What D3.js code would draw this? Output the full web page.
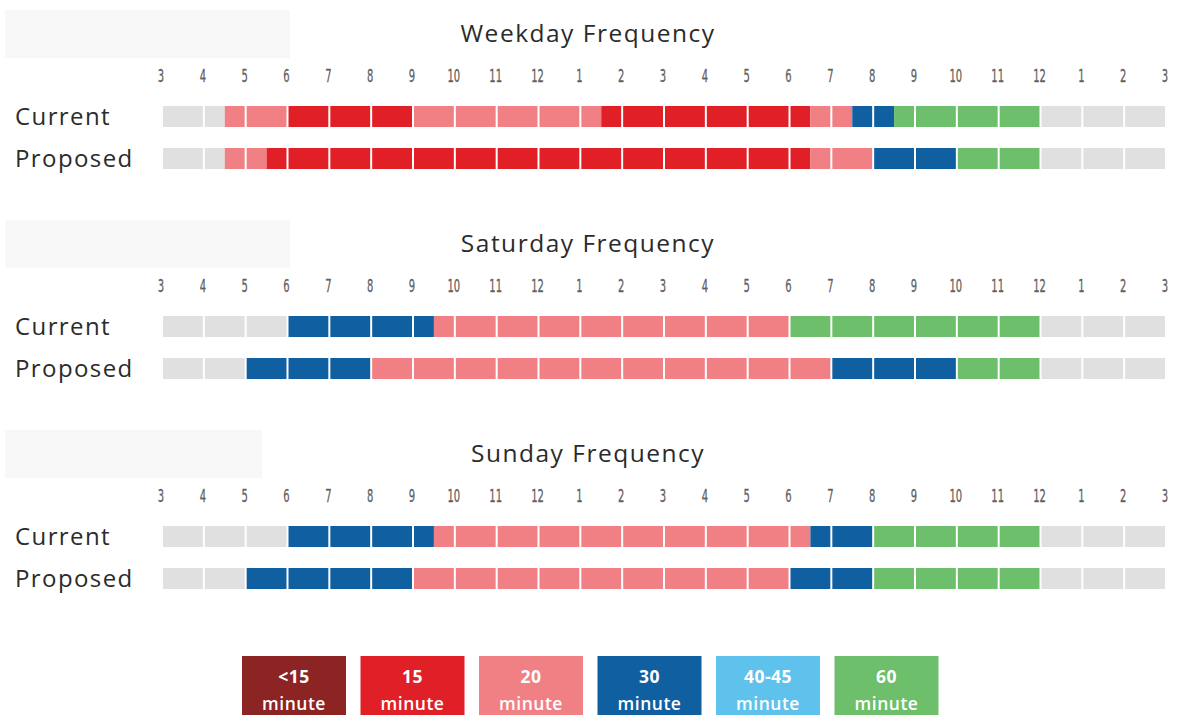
<!DOCTYPE html>
<html>
<head>
<meta charset="utf-8">
<script src="https://cdn.jsdelivr.net/npm/d3@7"></script>
<style>
  body { margin: 0; background: #fff; }
  text { font-family: "Open Sans", "Noto Sans", sans-serif; }
</style>
</head>
<body>
<svg></svg>
<script>
var svg = d3.select("svg").attr("width", 1178).attr("height", 715);

// hour labels along the day, 3am to 3am
var hours = d3.range(3, 28);
var tickLabels = ["3","4","5","6","7","8","9","10","11","12","1","2","3","4","5","6","7","8","9","10","11","12","1","2","3"];

// frequency categories
var categories = ["<15", "15", "20", "30", "40-45", "60"];
var catColors = ["#8c2424", "#e01f26", "#f18085", "#105fa1", "#5ec2ec", "#6dbf6b"];
var noService = "#e0e0e0";

var days = ["Weekday Frequency", "Saturday Frequency", "Sunday Frequency"];
var rowNames = ["Current", "Proposed"];

// segments: [start hour, end hour, category] (null = no service)
var weekdayCurrent = [[3, 4.5, null], [4.5, 6, "20"], [6, 9, "15"], [9, 13.5, "20"], [13.5, 18.5, "15"], [18.5, 19.5, "20"], [19.5, 20.5, "30"], [20.5, 24, "60"], [24, 27, null]];
var weekdayProposed = [[3, 4.5, null], [4.5, 5.5, "20"], [5.5, 18.5, "15"], [18.5, 20, "20"], [20, 22, "30"], [22, 24, "60"], [24, 27, null]];
var saturdayCurrent = [[3, 6, null], [6, 9.5, "30"], [9.5, 18, "20"], [18, 24, "60"], [24, 27, null]];
var saturdayProposed = [[3, 5, null], [5, 8, "30"], [8, 19, "20"], [19, 22, "30"], [22, 24, "60"], [24, 27, null]];
var sundayCurrent = [[3, 6, null], [6, 9.5, "30"], [9.5, 18.5, "20"], [18.5, 20, "30"], [20, 24, "60"], [24, 27, null]];
var sundayProposed = [[3, 5, null], [5, 9, "30"], [9, 18, "20"], [18, 20, "30"], [20, 24, "60"], [24, 27, null]];

var dayRows = [[weekdayCurrent, weekdayProposed], [saturdayCurrent, saturdayProposed], [sundayCurrent, sundayProposed]];

var color = d3.scaleOrdinal().domain(categories).range(catColors);
var x = d3.scaleLinear().domain([3, 27]).range([162, 1166]);

// greyed-out boxes top left of each section
var boxW = [285, 285, 257];

function splitByHour(segs) {
    var pieces = [];
    segs.forEach(function (s) {
        for (var h = Math.floor(s[0]); h < s[1]; h++) {
            var a = Math.max(s[0], h), b = Math.min(s[1], h + 1);
            if (b <= a) continue;
            pieces.push({ a: a, b: b, cat: s[2], padL: a === h ? 1 : 0, padR: b === h + 1 ? 1 : 0 });
        }
    });
    return pieces;
}

days.forEach(function (title, di) {
    var g = svg.append("g").attr("transform", "translate(0," + di * 210 + ")");

    g.append("rect")
        .attr("x", 5).attr("y", 10)
        .attr("width", boxW[di]).attr("height", 48)
        .attr("fill", "#f8f8f8");

    g.append("text")
        .attr("x", 588).attr("y", 42)
        .attr("text-anchor", "middle")
        .attr("font-size", 24.5)
        .attr("letter-spacing", 1.5)
        .attr("fill", "#2b2b2b")
        .text(title);

    g.selectAll(".tick")
        .data(hours)
        .enter().append("text")
        .attr("x", function (d) { return x(d) - 1; })
        .attr("y", 82)
        .attr("text-anchor", "middle")
        .attr("font-size", 18.5)
        .attr("fill", "#5f5f5f")
        .attr("stroke", "#5f5f5f")
        .attr("stroke-width", 0.3)
        .style("font-family", "'DejaVu Sans Condensed', 'Liberation Sans Narrow', sans-serif")
        .style("font-stretch", "condensed")
        .attr("transform", function (d) { return "translate(" + (x(d) - 1) + ",82) scale(0.6,1) translate(" + -(x(d) - 1) + ",-82)"; })
        .text(function (d, i) { return tickLabels[i]; });

    dayRows[di].forEach(function (segs, ri) {
        var y0 = 106 + ri * 42;
        g.append("text")
            .attr("x", 15).attr("y", y0 + 19)
            .attr("font-size", 24)
            .attr("letter-spacing", 1.4)
            .attr("fill", "#2b2b2b")
            .text(rowNames[ri]);

        g.selectAll(".seg" + ri)
            .data(splitByHour(segs))
            .enter().append("rect")
            .attr("x", function (d) { return x(d.a) + d.padL; })
            .attr("y", y0)
            .attr("width", function (d) { return x(d.b) - x(d.a) - d.padL - d.padR; })
            .attr("height", 21)
            .attr("fill", function (d) { return d.cat ? color(d.cat) : noService; });
    });
});

// legend
var legend = svg.append("g").selectAll("g")
    .data(categories)
    .enter().append("g")
    .attr("transform", function (d, i) { return "translate(" + (242 + i * 118.5) + ",656)"; });

legend.append("rect")
    .attr("width", 104).attr("height", 70)
    .attr("fill", function (d) { return color(d); });

legend.append("text")
    .attr("x", 52).attr("y", 27)
    .attr("text-anchor", "middle")
    .attr("font-size", 17.5)
    .attr("font-weight", "bold")
    .attr("letter-spacing", 0.5)
    .attr("fill", "#fff")
    .text(function (d) { return d; });

legend.append("text")
    .attr("x", 52).attr("y", 54)
    .attr("text-anchor", "middle")
    .attr("font-size", 17.5)
    .attr("font-weight", 600)
    .attr("letter-spacing", 0.5)
    .attr("fill", "#fff")
    .text("minute");
</script>
</body>
</html>
